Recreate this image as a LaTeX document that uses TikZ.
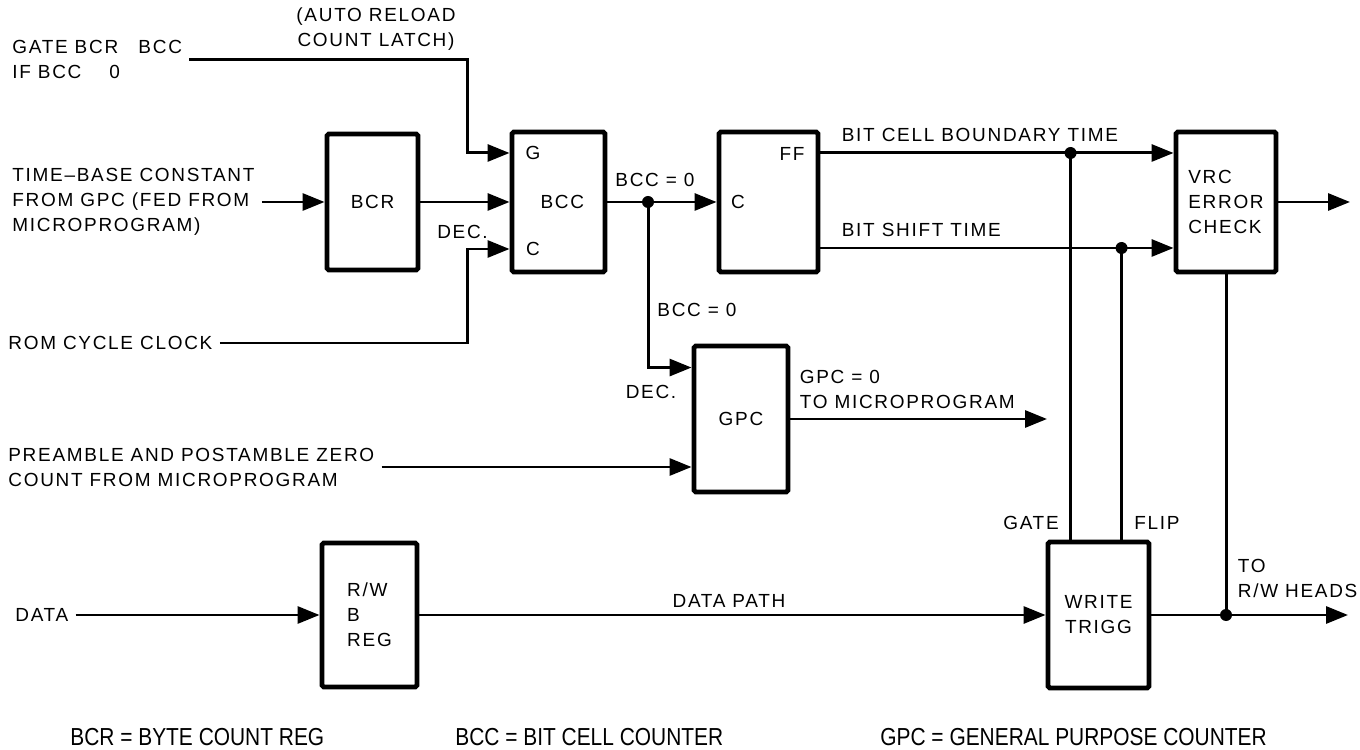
\documentclass[tikz,border=0pt]{standalone}
\usepackage{fontspec}
\setmainfont{Liberation Sans}
\newfontfamily\diagfont[LetterSpace=9]{Liberation Sans}
\newfontfamily\notefont[FakeStretch=0.85]{Liberation Sans}
\usetikzlibrary{arrows.meta,calc,positioning}
\tikzset{
  >={Triangle[length=4.4mm,width=3.4mm]},
  wire/.style={line width=1.7pt},
  blockbox/.style={
    draw,
    line width=2.8pt,
    rounded corners=1pt,
    minimum width=1.9cm,
    minimum height=2.8cm,
    align=center,
    inner sep=2pt,
    font=\diagfont\fontsize{10.8}{14.2}\selectfont,
  },
  tag/.style={font=\diagfont\fontsize{10.8}{14.2}\selectfont, inner sep=2pt, align=left},
  source/.style={tag, anchor=west, inner sep=4pt},
  junction/.style={circle, fill, inner sep=0pt, minimum size=2.4mm},
  legend/.style={font=\notefont\fontsize{14}{16}\selectfont, anchor=west, inner sep=0pt},
}

\begin{document}
\begin{tikzpicture}[line join=miter]
  \useasboundingbox (0,0) rectangle (27.2,14.98);

  % blocks
  \node[blockbox, minimum width=1.82cm, minimum height=2.72cm] (bcr) at (7.45, 10.94) {BCR};
  \node[blockbox, minimum width=1.86cm] (bcc) at (11.17, 10.94) {\hspace{0.15cm}BCC};
  \node[blockbox, minimum width=1.98cm] (ff) at (15.37, 10.94) {};
  \node[blockbox, minimum width=2.0cm, align=left] (vrc) at (24.52, 10.94) {VRC\\ERROR\\CHECK};
  \node[blockbox, minimum width=1.88cm, minimum height=2.92cm] (gpc) at (14.82, 6.6) {GPC};
  \node[blockbox, minimum height=2.88cm, align=left] (rwreg) at (7.39, 2.68) {R/W\\B\\REG};
  \node[blockbox, minimum width=2.02cm, minimum height=2.92cm] (wtrigg) at (21.97, 2.68) {WRITE\\TRIGG};

  % pin names inside the blocks
  \node[tag] (bccG) at (10.66, 11.92) {G};
  \node[tag] (bccC) at (10.66, 10.0) {C};
  \node[tag] (ffQ) at (15.84, 11.9) {FF};
  \node[tag] (ffC) at (14.76, 10.94) {C};

  % inputs on the left
  \node[source] (gatesrc) at (0.1, 13.79) {GATE BCR\hspace{0.7em} BCC\\IF BCC\hspace{1.1em} 0};
  \node[tag, align=center] (reload) at (7.52, 14.39) {(AUTO RELOAD\\COUNT LATCH)};
  \node[source] (tbcsrc) at (0.1, 10.94) {TIME–BASE CONSTANT\\FROM GPC (FED FROM\\MICROPROGRAM)};
  \node[source] (romsrc) at (0.02, 8.12) {ROM CYCLE CLOCK};
  \node[source] (presrc) at (0.02, 5.64) {PREAMBLE AND POSTAMBLE ZERO\\COUNT FROM MICROPROGRAM};
  \node[source] (datasrc) at (0.16, 2.68) {DATA};

  \coordinate (gbend) at (9.34, 13.84);
  \draw[wire, ->] (gatesrc.east) -| (gbend |- bccG) -- (bcc.west |- bccG);
  \draw[wire, ->] (romsrc.east) -| (gbend |- bccC) -- (bcc.west |- bccC);
  \draw[wire, ->] (tbcsrc.east) -- (bcr.west);
  \draw[wire, ->] (bcr.east) -- (bcc.west);
  \node[tag] (bccdec) at (9.25, 10.34) {DEC.};

  % BCC = 0 to flip-flop and GPC
  \draw[wire, ->] (bcc.east) -- (ff.west);
  \node[junction] (bccdot) at (12.96, 10.94) {};
  \node[tag] (bcczero) at (13.1, 11.38) {BCC = 0};
  \coordinate (gpcdec) at ($(gpc.north west)+(0,-0.48)$);
  \draw[wire, ->] (bccdot.center) |- (gpcdec);
  \node[tag] (bcczero2) at (13.94, 8.78) {BCC = 0};
  \node[tag] (gpcdeclbl) at (13.02, 7.14) {DEC.};

  \draw[wire, ->] (presrc.east) -- (presrc.east -| gpc.west);
  \coordinate (gpcend) at (20.94, 6.6);
  \draw[wire, ->] (gpc) -- (gpcend);
  \node[tag, anchor=west] (gpczero) at (15.92, 7.19) {GPC = 0\\TO MICROPROGRAM};

  % flip-flop outputs
  \coordinate (ffB) at ($(ff.east)+(0,0.98)$);
  \coordinate (ffS) at ($(ff.east)+(0,-0.92)$);
  \draw[wire, ->] (ffB) -- (ffB -| vrc.west);
  \draw[wire, ->] (ffS) -- (ffS -| vrc.west);
  \node[tag, anchor=west] (bcbt) at (16.76, 12.28) {BIT CELL BOUNDARY TIME};
  \node[tag, anchor=west] (bst) at (16.76, 10.38) {BIT SHIFT TIME};

  \coordinate (gatetap) at ($(wtrigg.north west)+(0.5,0)$);
  \coordinate (fliptap) at ($(wtrigg.north west)+(1.52,0)$);
  \node[junction] (gatedot) at (gatetap |- ffB) {};
  \node[junction] (flipdot) at (fliptap |- ffS) {};
  \draw[wire] (gatedot.center) -- (gatetap);
  \draw[wire] (flipdot.center) -- (fliptap);
  \node[tag] (gatelbl) at (20.62, 4.52) {GATE};
  \node[tag] (fliplbl) at (23.14, 4.52) {FLIP};

  % outputs on the right
  \coordinate (vrcend) at (27.0, 10.94);
  \draw[wire, ->] (vrc) -- (vrcend);
  \node[junction] (headdot) at (vrc.south |- wtrigg) {};
  \draw[wire] (vrc.south) -- (headdot.center);
  \coordinate (headend) at (26.96, 2.68);
  \draw[wire, ->] (wtrigg) -- (headend);
  \node[tag, anchor=west] (headlbl) at (24.68, 3.42) {TO\\R/W HEADS};

  % data path
  \draw[wire, ->] (datasrc) -- (rwreg);
  \draw[wire, ->] (rwreg) -- (wtrigg);
  \node[tag] (dplbl) at (14.58, 2.96) {DATA PATH};

  % key
  \node[legend] (bcrkey) at (1.4, 0.24) {BCR = BYTE COUNT REG};
  \node[legend] (bcckey) at (9.1, 0.24) {BCC = BIT CELL COUNTER};
  \node[legend] (gpckey) at (17.6, 0.24) {GPC = GENERAL PURPOSE COUNTER};
\end{tikzpicture}
\end{document}
